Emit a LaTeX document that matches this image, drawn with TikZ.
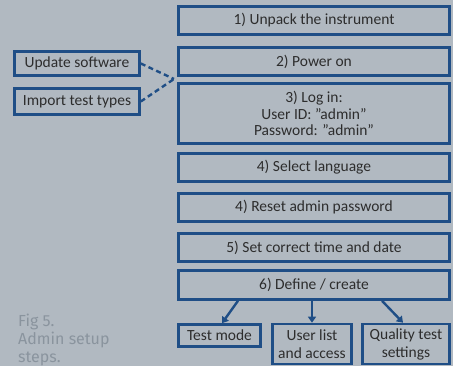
\documentclass[tikz,border=0pt]{standalone}
\usepackage{fontspec}
\setmainfont{Carlito}
\newfontfamily\capfont{Fira Sans}
\usetikzlibrary{arrows.meta}
\definecolor{bgGrey}{RGB}{177,185,193}
\definecolor{boxBlue}{RGB}{31,78,134}
\definecolor{txtGrey}{RGB}{45,45,45}
\definecolor{capGrey}{RGB}{138,148,158}

\begin{document}
\begin{tikzpicture}[x=1pt, y=-1pt,
    stepbox/.style={draw=boxBlue, line width=2.6pt, text=txtGrey, font=\fontsize{15.5}{16.5}\selectfont,
                    align=center, inner sep=0pt, minimum width=271pt},
    sidebox/.style={draw=boxBlue, line width=2.6pt, text=txtGrey, font=\fontsize{15.5}{16.5}\selectfont,
                    align=center, inner sep=0pt, minimum width=125pt},
    subbox/.style={draw=boxBlue, line width=2.6pt, text=txtGrey, font=\fontsize{15.5}{18}\selectfont,
                   align=center, inner sep=0pt},
    arr/.style={draw=boxBlue, line width=2.4pt, -{Triangle[width=8pt,length=6pt]}}]
      \fill [bgGrey] (0,0) rectangle (453,366);
      \useasboundingbox (0,0) rectangle (453,366);

      % main steps
      \foreach \y/\h/\txt [count = \i] in {20.5/28/{1) Unpack the instrument},
                                            61.5/28/{2) Power on},
                                            113.5/60/{3) Log in:\\User ID: ”admin”\\Password: ”admin”},
                                            167.5/28/{4) Select language},
                                            207.5/28/{4) Reset admin password},
                                            247.5/28/{5) Set correct time and date},
                                            285/29/{6) Define / create}} {
        \node [stepbox, minimum height=\h pt] (s\i) at (314,\y) {\txt};
      }

      \node [sidebox, minimum height=24pt] (upd) at (77,63.5) {Update software};
      \node [sidebox, minimum height=26pt] (imp) at (77,101.5) {Import test types};
      \coordinate (join) at (174,79);
      \draw [boxBlue, line width=2.4pt, dash pattern=on 5pt off 3.5pt] (upd.east) -- (join);
      \draw [boxBlue, line width=2.4pt, dash pattern=on 5pt off 3.5pt] (imp.east) -- (join);

      \node [subbox, minimum width=82pt, minimum height=22pt] (mode) at (219.5,335.5) {Test mode};
      \node [subbox, minimum width=79pt, minimum height=40pt] (users) at (312,344) {User list\\and access};
      \node [subbox, minimum width=87pt, minimum height=40pt] (qual) at (406,344) {Quality test\\settings};

      \draw [arr] ([xshift=-76pt]s7.south) -- ([xshift=2.5pt]mode.north);
      \draw [arr] (s7.south -| users.north) -- (users.north);
      \draw [arr] ([xshift=68pt]s7.south) -- ([xshift=-3pt]qual.north);

      \node [anchor=north west, align=left, text=capGrey, inner sep=0pt,
             font=\capfont\fontsize{16}{18}\selectfont] (cap) at (18,314) {Fig 5.\\Admin setup\\steps.};
    \end{tikzpicture}
\end{document}
